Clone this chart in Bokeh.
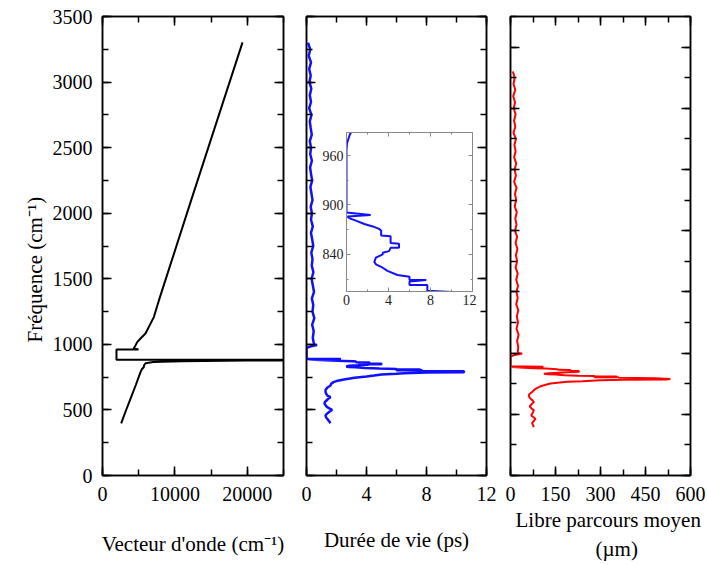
import math
from bokeh.plotting import figure
from bokeh.models import Range1d, LinearAxis, SingleIntervalTicker, Title
from bokeh.layouts import row
from bokeh.embed import file_html
from bokeh.resources import INLINE

FONT = "Liberation Serif"

# ---------------- data ----------------
# Panel 1: dispersion (wave vector vs frequency)
wave_k = [2580, 3200, 3900, 4600, 5250, 5450, 5700, 5750, 5940, 7000, 11000, 20000, 40000,
          40000, 1930, 1930, 4970, 4300, 4560, 4790, 5250, 5940, 7090, 7790, 12240, 19340]
wave_f = [397, 490, 590, 690, 788, 812, 826, 842, 856, 866, 872, 876, 878,
          882, 882, 961, 961, 968, 992, 1017, 1045, 1083, 1208, 1335, 2098, 3303]

# Panel 2: lifetime (ps) vs frequency
life_f = [3300, 3250, 3200, 3150, 3100, 3050, 3000, 2950, 2900, 2850, 2800, 2750, 2700, 2650,
          2600, 2550, 2500, 2450, 2400, 2350, 2300, 2250, 2200, 2150, 2100, 2050, 2000, 1950,
          1900, 1850, 1800, 1750, 1700, 1650, 1600, 1550, 1500, 1450, 1400, 1350, 1300, 1250,
          1200, 1150, 1100, 1050, 1000,
          995, 985, 975, 967, 891, 888, 886, 884, 881, 877, 874, 871, 869, 863, 862, 854,
          853, 848, 848, 844, 842, 840, 836, 831, 828, 825, 820, 815, 813, 809, 809, 807,
          803, 803, 798, 796, 794, 790, 788, 785, 780, 776, 770, 762, 755, 745, 732, 720,
          712, 700, 686, 669, 652, 636, 622, 610, 597, 585, 572, 560, 547, 535, 521, 510,
          501, 492, 483, 470, 458, 445, 432, 415, 399]
life_tau = [0.10, 0.25, 0.15, 0.30, 0.18, 0.28, 0.20, 0.32, 0.22, 0.30, 0.18, 0.33, 0.22, 0.28,
            0.35, 0.22, 0.30, 0.25, 0.36, 0.24, 0.30, 0.38, 0.26, 0.33, 0.40, 0.28, 0.36, 0.30,
            0.42, 0.30, 0.38, 0.45, 0.32, 0.40, 0.35, 0.46, 0.34, 0.42, 0.50, 0.36, 0.45, 0.40,
            0.52, 0.38, 0.48, 0.42, 0.50,
            0.70, 0.30, 0.05, 0.0, 0.0, 2.3, 0.1, 0.25, 0.9, 1.7, 2.5, 3.1, 3.3, 3.3, 4.2, 4.2,
            5.0, 5.0, 4.2, 4.05, 3.45, 3.45, 2.8, 2.65, 2.8, 3.3, 3.9, 4.85, 6.0, 6.0, 7.6, 6.0,
            6.0, 7.7, 7.7, 7.7, 10.5, 10.5, 10.5, 8.0, 6.5, 6.0, 5.0, 4.5, 4.0, 3.2, 2.5, 2.0,
            1.8, 1.65, 1.6, 1.38, 1.27, 1.27, 1.32, 1.38, 1.6, 1.45, 1.33, 1.22, 1.2, 1.28, 1.38, 1.55,
            1.71, 1.6, 1.49, 1.35, 1.27, 1.3, 1.38, 1.5, 1.6]

# Panel 3: mean free path (um) vs frequency
mfp_f = [3300, 3250, 3200, 3150, 3100, 3050, 3000, 2950, 2900, 2850, 2800, 2750, 2700, 2650,
         2600, 2550, 2500, 2450, 2400, 2350, 2300, 2250, 2200, 2150, 2100, 2050, 2000, 1950,
         1900, 1850, 1800, 1750, 1700, 1650, 1600, 1550, 1500, 1450, 1400, 1350, 1300, 1250,
         1200, 1150, 1100, 1050, 1000,
         996, 985, 973, 968, 892, 888, 886, 881, 877, 874, 869, 863, 862, 854, 853, 848,
         844, 840, 836, 831, 828, 825, 820, 815, 813, 809, 809, 807, 803, 803, 798, 794,
         788, 785, 782, 778, 770, 765, 751, 729, 710, 696, 682, 668, 655, 640, 627, 612,
         600, 582, 564, 548, 532, 512, 491, 478, 464, 446, 428, 412, 395]
mfp_v = [8, 14, 10, 16, 9, 15, 11, 17, 12, 16, 10, 18, 13, 17,
         12, 19, 14, 18, 12, 20, 15, 19, 14, 21, 16, 20, 15, 22,
         17, 23, 18, 22, 17, 24, 19, 25, 20, 24, 19, 26, 21, 25,
         20, 27, 22, 26, 24,
         39, 15, 3, 0, 0, 110, 5, 45, 80, 118, 155, 160, 200, 200, 228, 228,
         190, 160, 130, 111, 125, 150, 180, 225, 280, 280, 355, 280, 280, 360, 360, 480,
         533, 520, 380, 300, 240, 189, 133, 100, 85, 78, 72, 64, 61, 63, 67, 74,
         78, 70, 64, 70, 78, 74, 69, 76, 83, 78, 72, 75, 78]

assert len(life_f) == len(life_tau)
assert len(mfp_f) == len(mfp_v)
assert len(wave_k) == len(wave_f)

# ---------------- layout ----------------
TOP, BOTTOM = 16, 90
FRAME_H = 459


def setup_axes(p, xint, yint, ylabels, tick_col="black", lw=1.5, big=9, small=6,
               fsize="20px", xstand=11, ystand=10):
    p.xgrid.visible = False
    p.ygrid.visible = False
    p.add_layout(LinearAxis(), "above")
    p.add_layout(LinearAxis(), "right")
    for ax in p.xaxis:
        ax.ticker = SingleIntervalTicker(interval=xint, num_minor_ticks=2)
    for ax in p.yaxis:
        ax.ticker = SingleIntervalTicker(interval=yint, num_minor_ticks=2)
    for ax in list(p.xaxis) + list(p.yaxis):
        ax.axis_line_color = tick_col
        ax.axis_line_width = lw
        ax.major_tick_line_color = tick_col
        ax.minor_tick_line_color = tick_col
        ax.major_tick_line_width = lw
        ax.minor_tick_line_width = lw
        ax.major_tick_in = big
        ax.major_tick_out = 0
        ax.minor_tick_in = small
        ax.minor_tick_out = 0
        ax.major_label_text_font = FONT
        ax.major_label_text_font_size = fsize
        ax.major_label_text_color = "black"
    for ax in p.below:
        ax.major_label_standoff = xstand
    for ax in p.left:
        ax.major_label_standoff = ystand
    hidden = list(p.above) + list(p.right)
    if not ylabels:
        hidden += list(p.left)
    for ax in hidden:
        ax.major_label_text_color = None
        ax.major_label_text_font_size = "0px"
        ax.major_label_standoff = 0
    p.outline_line_color = tick_col
    p.outline_line_width = lw


def make_fig(bl, fw, br, xr, yr):
    p = figure(frame_width=fw, frame_height=FRAME_H, x_range=Range1d(*xr), y_range=Range1d(*yr),
               output_backend="svg", toolbar_location=None,
               min_border_left=bl, min_border_right=br,
               min_border_top=TOP, min_border_bottom=BOTTOM)
    p.background_fill_color = "white"
    p.border_fill_color = "white"
    return p


def add_title(p, text, side, align="center", offset=0, standoff=0, size="21px"):
    p.add_layout(Title(text=text, align=align, offset=offset, standoff=standoff,
                       text_font=FONT, text_font_size=size, text_font_style="normal",
                       text_color="black"), side)


# Panel 1
p1 = make_fig(102, 181, 11, (0, 25000), (0, 3500))
setup_axes(p1, 10000, 500, True)
p1.line(wave_k, wave_f, line_color="black", line_width=2)
add_title(p1, "Vecteur d'onde (cm\u207b\u00b9)", "below", standoff=52)
add_title(p1, "Fréquence (cm\u207b\u00b9)", "left", align="left", offset=133, standoff=6)

# Panel 2
p2 = make_fig(12, 180, 12, (0, 12), (0, 3500))
setup_axes(p2, 4, 500, False)
p2.line(life_tau, life_f, line_color="#1010ff", line_width=2.5)
add_title(p2, "Durée de vie (ps)", "below", standoff=44)

# Panel 3
p3 = make_fig(12, 180, 16, (0, 600), (0, 3750))
setup_axes(p3, 150, 500, False)
p3.line(mfp_v, mfp_f, line_color="#ff0000", line_width=2)
add_title(p3, "Libre parcours moyen", "below", align="left", offset=5, standoff=5)
add_title(p3, "(µm)", "below", align="left", offset=85, standoff=1)

# Inset (zoom of the lifetime curve)
inset = figure(frame_width=126, frame_height=159, x_range=Range1d(0, 12),
               y_range=Range1d(795, 988),
               output_backend="svg", toolbar_location=None,
               min_border_left=30, min_border_right=4, min_border_top=4, min_border_bottom=20)
inset.background_fill_alpha = 0
inset.border_fill_alpha = 0
setup_axes(inset, 4, 60, True, tick_col="#888888", lw=1, big=4, small=2,
           fsize="14px", xstand=3, ystand=3)
for ax in list(inset.below) + list(inset.left):
    ax.major_label_text_color = "#222222"
inset.line(life_tau, life_f, line_color="#1010ff", line_width=2)
inset.styles = {"position": "absolute", "left": "316px", "top": "128px"}

layout = row(p1, p2, p3)
open("out.html", "w").write(file_html([layout, inset], INLINE))
